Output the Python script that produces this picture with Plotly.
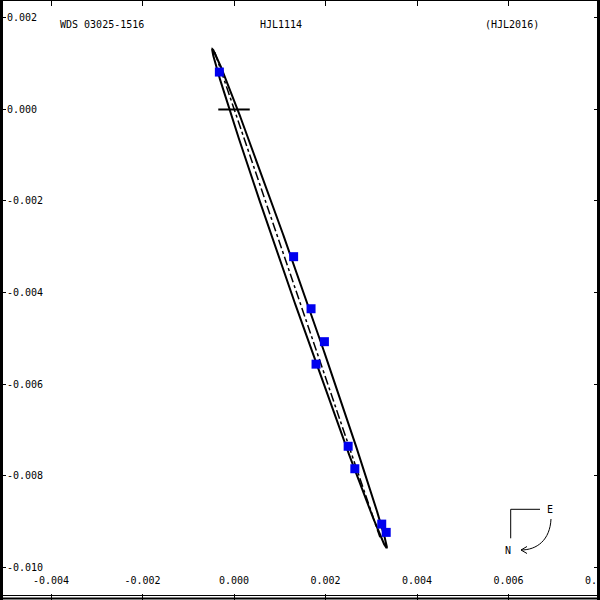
import numpy as np
import plotly.graph_objects as go

obs_x = [-0.000320, 0.001303, 0.001684, 0.001976, 0.001793, 0.002495, 0.002641, 0.003229, 0.003327]
obs_y = [0.000818, -0.003217, -0.004355, -0.005075, -0.005566, -0.007361, -0.007852, -0.009062, -0.009243]

# Apparent orbit ellipse, given by its two tips and its half width
tip_top = (-0.000474, 0.001322)
tip_bottom = (0.003338, -0.009591)
half_width = 0.000128

# Line of nodes endpoints
nodes_x = [-0.00042, 0.00319]
nodes_y = [0.00125, -0.00935]

# Axis ticks
xticks = [-0.004, -0.002, 0.0, 0.002, 0.004, 0.006, 0.008]
yticks = [0.002, 0.0, -0.002, -0.004, -0.006, -0.008, -0.010]
xlabels = ["-0.004", "-0.002", "0.000", "0.002", "0.004", "0.006", "0.008"]
ylabels = ["0.002", "0.000", "-0.002", "-0.004", "-0.006", "-0.008", "-0.010"]

cx = (tip_top[0] + tip_bottom[0]) / 2
cy = (tip_top[1] + tip_bottom[1]) / 2
dx = tip_bottom[0] - tip_top[0]
dy = tip_bottom[1] - tip_top[1]
a = np.hypot(dx, dy) / 2
ang = np.arctan2(dy, dx)
t = np.linspace(0, 2 * np.pi, 721)
ex = cx + a * np.cos(t) * np.cos(ang) - half_width * np.sin(t) * np.sin(ang)
ey = cy + a * np.cos(t) * np.sin(ang) + half_width * np.sin(t) * np.cos(ang)

FONT = "DejaVu Sans Mono"

fig = go.Figure()
fig.add_trace(go.Scatter(x=ex, y=ey, mode="lines", line=dict(color="black", width=2), hoverinfo="skip"))
fig.add_trace(go.Scatter(x=nodes_x, y=nodes_y, mode="lines", line=dict(color="black", width=1.5, dash="dashdot"), hoverinfo="skip"))
fig.add_trace(go.Scatter(x=obs_x, y=obs_y, mode="markers",
                         marker=dict(symbol="square", size=9, color="#0000ee", line=dict(width=0))))
# primary marker
fig.add_trace(go.Scatter(x=[-0.000344, 0.000344], y=[0, 0], mode="lines", line=dict(color="black", width=2), hoverinfo="skip"))

def P(px, py):
    return px / 600.0, 1 - py / 600.0

def pline(xa, ya, xb, yb, w=1):
    a0, b0 = P(xa, ya); a1, b1 = P(xb, yb)
    return dict(type="line", xref="paper", yref="paper", x0=a0, y0=b0, x1=a1, y1=b1,
                line=dict(color="black", width=w), layer="above")

shapes = []
# frame
shapes.append(pline(1.5, 0, 1.5, 600, 3))
shapes.append(pline(598.5, 0, 598.5, 600, 3))
shapes.append(pline(0, 0.5, 600, 0.5, 1))
shapes.append(pline(0, 595.5, 600, 595.5, 1))
shapes.append(pline(0, 598.5, 600, 598.5, 2))
# compass
shapes.append(pline(510.7, 509.3, 540, 509.3))
shapes.append(pline(510.7, 509.3, 510.7, 538.3))
pts = [P(551, 519), P(550, 540), P(537, 550), P(521, 550)]
path = "M {} {} C {} {}, {} {}, {} {}".format(*[c for p in pts for c in p])
shapes.append(dict(type="path", xref="paper", yref="paper", path=path, line=dict(color="black", width=1)))
for hx, hy in [(527, 546.5), (527, 553.5)]:
    shapes.append(pline(521, 550, hx, hy))

annots = []
for txt, px, py in [("WDS 03025-1516", 101.5, 25), ("HJL1114", 281, 25), ("(HJL2016)", 512, 25), ("E", 550, 509), ("N", 508, 550)]:
    ax_, ay_ = P(px, py)
    annots.append(dict(text=txt, x=ax_, y=ay_, xref="paper", yref="paper", showarrow=False,
                       xanchor="center", yanchor="middle", font=dict(family=FONT, size=10, color="black")))
# last x tick label, cut by the right edge as in the original
annots.append(dict(text=xlabels[-1], x=xticks[-1], y=1 - 580 / 600.0, xref="x", yref="paper", showarrow=False,
                   xanchor="center", yanchor="middle", font=dict(family=FONT, size=10, color="black")))

fig.update_layout(
    width=600, height=600,
    margin=dict(l=0, r=0, t=0, b=0),
    paper_bgcolor="white", plot_bgcolor="white",
    showlegend=False,
    shapes=shapes, annotations=annots,
    font=dict(family=FONT, size=10, color="black"),
)
axis_common = dict(showgrid=False, zeroline=False, showline=True, linecolor="black", linewidth=1,
                   mirror="allticks", ticks="inside", ticklen=6, tickcolor="black", tickwidth=1,
                   ticklabelposition="inside", tickfont=dict(family=FONT, size=10, color="black"))
fig.update_xaxes(range=[-0.005115, 0.0080], tickvals=xticks, ticktext=xlabels, ticklabelstandoff=7, **axis_common)
fig.update_yaxes(range=[-0.010721, 0.002393], tickvals=yticks, ticktext=ylabels, **axis_common)

fig.write_html("out.html")
